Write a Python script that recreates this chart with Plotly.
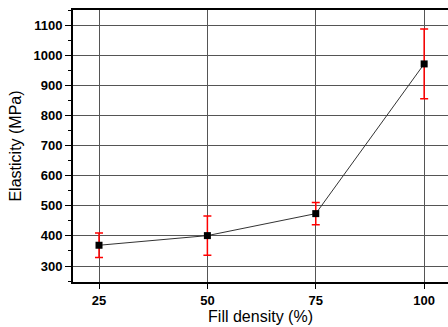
import plotly.graph_objects as go

fill_density = [25, 50, 75, 100]
elasticity = [369, 401, 474, 971]
error = [41, 65, 37, 116]
y_ticks = [300, 400, 500, 600, 700, 800, 900, 1000, 1100]

fig = go.Figure()
fig.add_trace(go.Scatter(
    x=fill_density, y=elasticity,
    mode="lines+markers",
    line=dict(color="#333333", width=1),
    marker=dict(symbol="square", size=7, color="black"),
    error_y=dict(type="data", array=error, color="red", thickness=1.5, width=4),
))

fig.update_layout(
    width=448, height=327,
    margin=dict(l=73, r=0, t=10, b=45),
    plot_bgcolor="white", paper_bgcolor="white",
    showlegend=False,
    font=dict(family="Liberation Sans, Arial, sans-serif", color="black"),
)
fig.update_xaxes(
    range=[19, 105.5],
    tickvals=fill_density,
    ticktext=[f"<b>{v}</b>" for v in fill_density],
    tickfont=dict(size=13),
    showgrid=True, gridcolor="#555555", gridwidth=1,
    showline=True, linecolor="black", linewidth=2, mirror=True,
    ticks="outside", ticklen=5, tickcolor="black",
    zeroline=False,
    title=dict(text="Fill density (%)", font=dict(size=16), standoff=4),
)
fig.update_yaxes(
    range=[247, 1150],
    tickvals=y_ticks,
    ticktext=[f"<b>{v}</b>" for v in y_ticks],
    tickfont=dict(size=13),
    showgrid=True, gridcolor="#555555", gridwidth=1,
    showline=True, linecolor="black", linewidth=2,
    ticks="outside", ticklen=6, tickcolor="black",
    minor=dict(dtick=50, tick0=0, ticks="outside", ticklen=3, tickcolor="black", showgrid=False),
    zeroline=False,
    title=dict(text="Elasticity (MPa)", font=dict(size=16), standoff=8),
)

fig.write_html(
    "out.html",
    config={"displayModeBar": False},
    post_script="document.body.style.margin='0px';document.body.style.overflow='hidden';",
)
